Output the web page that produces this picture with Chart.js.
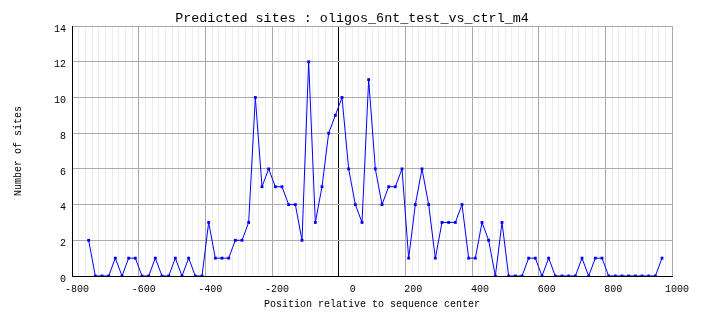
<!DOCTYPE html>
<html>
<head>
<meta charset="utf-8">
<title>Predicted sites</title>
<script src="https://cdn.jsdelivr.net/npm/chart.js@4/dist/chart.umd.min.js"></script>
<style>
  html, body { margin: 0; padding: 0; background: #ffffff; }
  #wrap { width: 704px; height: 328px; background: #ffffff; }
</style>
</head>
<body>
<div id="wrap"><canvas id="chart" width="704" height="328"></canvas></div>
<script>
// Bin centres (bp, relative to the sequence centre)
const positions = [
  -750, -730, -710, -690, -670, -650, -630, -610, -590, -570,
  -550, -530, -510, -490, -470, -450, -430, -410, -390, -370,
  -350, -330, -310, -290, -270, -250, -230, -210, -190, -170,
  -150, -130, -110, -90, -70, -50, -30, -10, 10, 30,
  50, 70, 90, 110, 130, 150, 170, 190, 210, 230,
  250, 270, 290, 310, 330, 350, 370, 390, 410, 430,
  450, 470, 490, 510, 530, 550, 570, 590, 610, 630,
  650, 670, 690, 710, 730, 750, 770, 790, 810, 830,
  850, 870, 890, 910, 930, 950, 970
];

// Number of predicted sites in each bin
const siteCounts = [
  2, 0, 0, 0, 1, 0, 1, 1, 0, 0,
  1, 0, 0, 1, 0, 1, 0, 0, 3, 1,
  1, 1, 2, 2, 3, 10, 5, 6, 5, 5,
  4, 4, 2, 12, 3, 5, 8, 9, 10, 6,
  4, 3, 11, 6, 4, 5, 5, 6, 1, 4,
  6, 4, 1, 3, 3, 3, 4, 1, 1, 3,
  2, 0, 3, 0, 0, 0, 1, 1, 0, 1,
  0, 0, 0, 0, 1, 0, 1, 1, 0, 0,
  0, 0, 0, 0, 0, 0, 1
];

// Axis ranges and tick spacing
const xRange = [-800, 1000];
const xMajorStep = 200;
const xMinorStep = 20;
const yRange = [0, 14];
const yStep = 2;

const chartTitle = 'Predicted sites : oligos_6nt_test_vs_ctrl_m4';
const xTitle = 'Position relative to sequence center';
const yTitle = 'Number of sites';

const MONO = "'Liberation Mono', 'DejaVu Sans Mono', monospace";
const points = positions.map((p, i) => ({ x: p, y: siteCounts[i] }));

const isMajor = v => Math.round(v) % xMajorStep === 0;

new Chart(document.getElementById('chart'), {
  type: 'scatter',
  data: {
    datasets: [{
      data: points,
      showLine: true,
      borderColor: '#0000ff',
      backgroundColor: '#0000ff',
      borderWidth: 1,
      pointStyle: 'rect',
      pointRadius: 2,
      pointBorderWidth: 0,
      tension: 0
    }]
  },
  options: {
    responsive: false,
    animation: false,
    devicePixelRatio: 1,
    layout: { padding: 0 },
    plugins: {
      legend: { display: false },
      tooltip: { enabled: false },
      title: {
        display: true,
        text: chartTitle,
        color: '#000000',
        font: { family: MONO, size: 13.4, weight: 'normal', lineHeight: 1.2 },
        padding: { top: 10, bottom: 0 }
      }
    },
    scales: {
      x: {
        type: 'linear',
        min: xRange[0],
        max: xRange[1],
        afterFit: s => { s.height = 52; },
        border: { display: true, color: '#000000', width: 1 },
        grid: {
          drawTicks: false,
          lineWidth: 1,
          color: ctx => {
            const v = Math.round(ctx.tick.value);
            if (v === 0) return '#000000';
            return isMajor(v) ? '#aaaaaa' : '#ededed';
          }
        },
        ticks: {
          stepSize: xMinorStep,
          autoSkip: false,
          maxRotation: 0,
          minRotation: 0,
          align: 'end',
          labelOffset: 17,
          padding: 7,
          color: '#000000',
          font: { family: MONO, size: 10 },
          callback: v => (isMajor(v) ? String(Math.round(v)) : '')
        },
        title: {
          display: true,
          text: xTitle,
          color: '#000000',
          font: { family: MONO, size: 10 },
          padding: { top: 0, bottom: 18 }
        }
      },
      y: {
        type: 'linear',
        min: yRange[0],
        max: yRange[1],
        afterFit: s => { s.width = 72; },
        border: { display: true, color: '#000000', width: 1 },
        grid: { drawTicks: false, color: '#aaaaaa', lineWidth: 1 },
        ticks: {
          stepSize: yStep,
          padding: 6,
          labelOffset: 3,
          color: '#000000',
          font: { family: MONO, size: 10 }
        },
        title: {
          display: true,
          text: yTitle,
          color: '#000000',
          font: { family: MONO, size: 10 },
          padding: { top: 12, bottom: 0 }
        }
      },
      // empty right-hand margin so the title centres on the full width
      yMargin: {
        type: 'linear',
        position: 'right',
        display: true,
        afterFit: s => { s.width = 32; },
        border: { display: false },
        grid: { display: false, drawTicks: false },
        ticks: { display: false }
      }
    }
  }
});
</script>
</body>
</html>
